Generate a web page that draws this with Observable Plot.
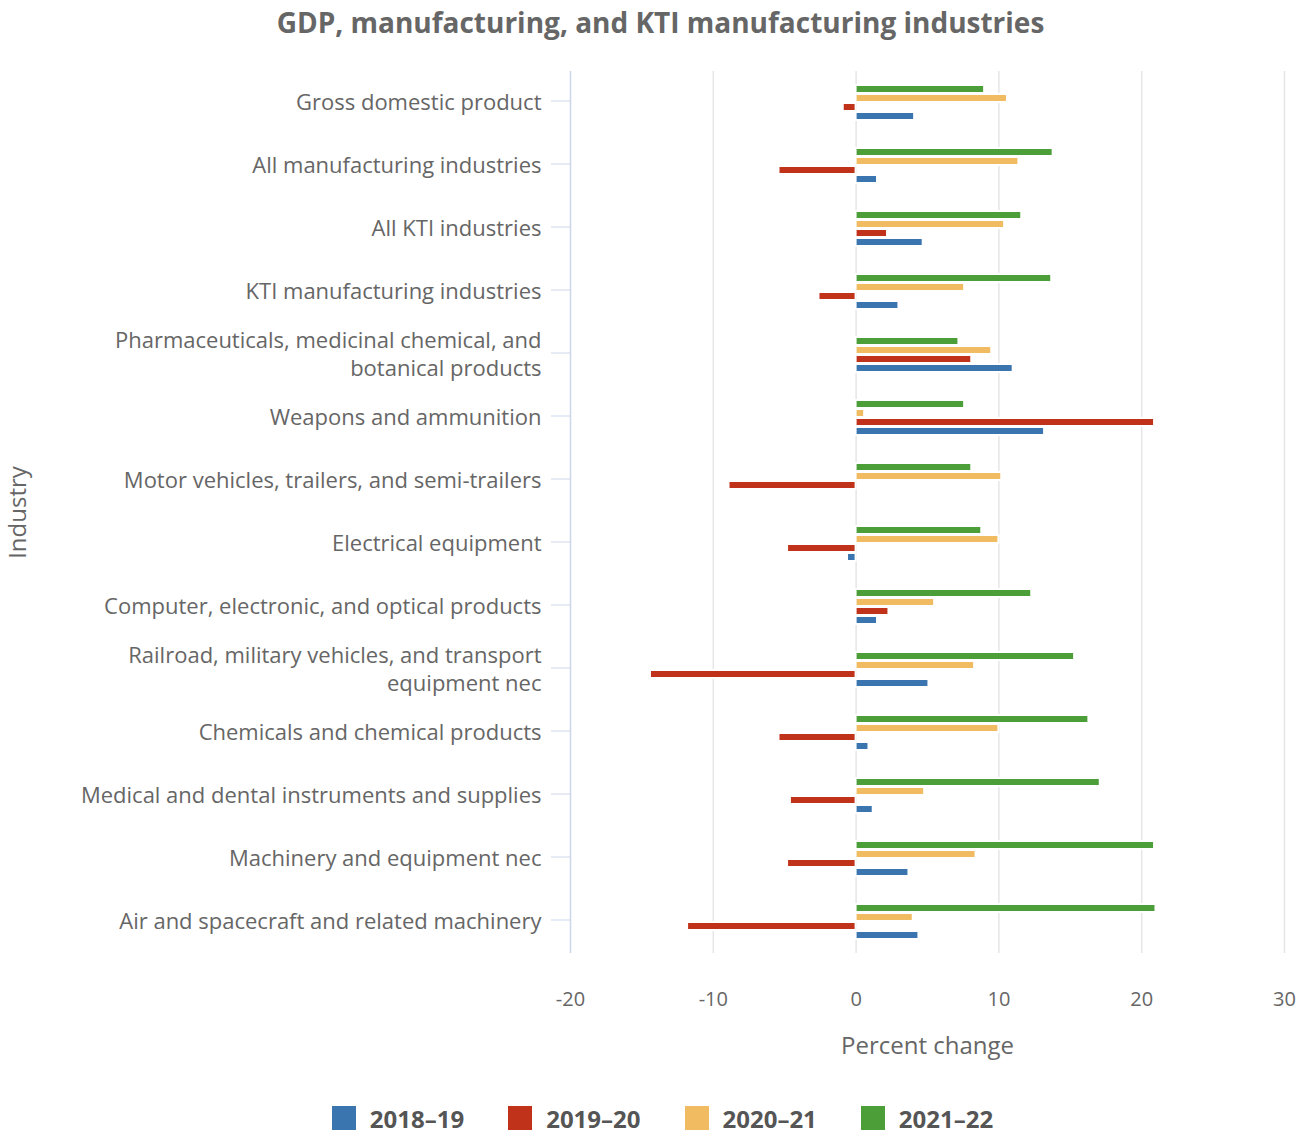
<!DOCTYPE html>
<html><head><meta charset="utf-8">
<script src="https://cdn.jsdelivr.net/npm/d3@7"></script>
<script src="https://cdn.jsdelivr.net/npm/@observablehq/plot@0.6"></script>
<style>
body{margin:0;background:#fff;font-family:"Open Sans",sans-serif;}
#title{height:44px;line-height:44px;text-align:center;font-size:28px;font-weight:700;color:#666;padding-left:12px;}
#legend{display:flex;justify-content:center;align-items:center;height:68px;gap:44px;font-size:24px;font-weight:700;color:#555;padding-left:16px;}
.item{display:flex;align-items:center;gap:14px}
.sw{width:24px;height:24px;display:inline-block}
</style></head><body>
<div id="title">GDP, manufacturing, and KTI manufacturing industries</div>
<div id="chart"></div>
<div id="legend"></div>
<script>
const industries = [
  "Gross domestic product",
  "All manufacturing industries",
  "All KTI industries",
  "KTI manufacturing industries",
  "Pharmaceuticals, medicinal chemical, and botanical products",
  "Weapons and ammunition",
  "Motor vehicles, trailers, and semi-trailers",
  "Electrical equipment",
  "Computer, electronic, and optical products",
  "Railroad, military vehicles, and transport equipment nec",
  "Chemicals and chemical products",
  "Medical and dental instruments and supplies",
  "Machinery and equipment nec",
  "Air and spacecraft and related machinery"
];
const years = ["2018–19", "2019–20", "2020–21", "2021–22"];
const colors = ["#3b75af", "#c1321a", "#f1bb62", "#4c9f38"];
const v2018_19 = [4.1, 1.5, 4.7, 3.0, 11.0, 13.2, 0, -0.6, 1.5, 5.1, 0.9, 1.2, 3.7, 4.4];
const v2019_20 = [-0.9, -5.4, 2.2, -2.6, 8.1, 20.9, -8.9, -4.8, 2.3, -14.4, -5.4, -4.6, -4.8, -11.8];
const v2020_21 = [10.6, 11.4, 10.4, 7.6, 9.5, 0.6, 10.2, 10.0, 5.5, 8.3, 10.0, 4.8, 8.4, 4.0];
const v2021_22 = [9.0, 13.8, 11.6, 13.7, 7.2, 7.6, 8.1, 8.8, 12.3, 15.3, 16.3, 17.1, 20.9, 21.0];
const xTicks = [-20, -10, 0, 10, 20, 30];

const series = [v2018_19, v2019_20, v2020_21, v2021_22];
const data = industries.flatMap((ind, i) => years.map((yr, j) => ({industry: ind, year: yr, value: series[j][i]})));

function wrap(s, n = 43) {
  const words = s.split(" ");
  const lines = [];
  let cur = "";
  for (const w of words) {
    if (cur && (cur + " " + w).length > n) { lines.push(cur); cur = w; }
    else cur = cur ? cur + " " + w : w;
  }
  if (cur) lines.push(cur);
  return lines.join("\n");
}

const chart = Plot.plot({
  width: 1309,
  height: 1040,
  marginLeft: 570,
  marginRight: 25,
  marginTop: 25,
  marginBottom: 130,
  style: {fontFamily: "'Open Sans', sans-serif", fontSize: "20px", color: "#666", background: "#fff"},
  x: {domain: [-20, 30]},
  fy: {domain: industries, padding: 0},
  y: {domain: years.slice().reverse(), paddingInner: 0.143, paddingOuter: 1.46, axis: null},
  color: {domain: years, range: colors},
  marks: [
    Plot.gridX(xTicks.filter(d => d !== -20), {stroke: "#e6e6e6", strokeOpacity: 1, strokeWidth: 1.5}),
    Plot.ruleX([-20], {stroke: "#ccd6eb", strokeWidth: 1.5}),
    Plot.barX(data, {x: "value", y: "year", fy: "industry", fill: "year", stroke: "white", strokeWidth: 2}),
    Plot.axisX(xTicks, {tickSize: 0, tickPadding: 38, fontSize: 20, fill: "#666", tickFormat: d => String(d), label: null}),
    Plot.axisX({ticks: [], tickSize: 0, fontSize: 24, fill: "#666", label: "Percent change", labelAnchor: "center", labelArrow: "none", labelOffset: 100}),
    Plot.axisFy({anchor: "left", tickSize: 19, tickPadding: 10, stroke: "#ccd6eb", fill: "#666", fontSize: 22, lineHeight: 1.27, dy: -2, label: null, tickFormat: d => wrap(d)}),
    Plot.axisFy({anchor: "left", ticks: [], tickSize: 0, fill: "#666", fontSize: 24, label: "Industry", labelAnchor: "center", labelArrow: "none", labelOffset: 562})
  ]
});
document.getElementById("chart").appendChild(chart);

const legend = document.getElementById("legend");
years.forEach((y, i) => {
  const item = document.createElement("div");
  item.className = "item";
  const sw = document.createElement("span");
  sw.className = "sw";
  sw.style.background = colors[i];
  const t = document.createElement("span");
  t.textContent = y;
  item.appendChild(sw);
  item.appendChild(t);
  legend.appendChild(item);
});
</script>
</body></html>
